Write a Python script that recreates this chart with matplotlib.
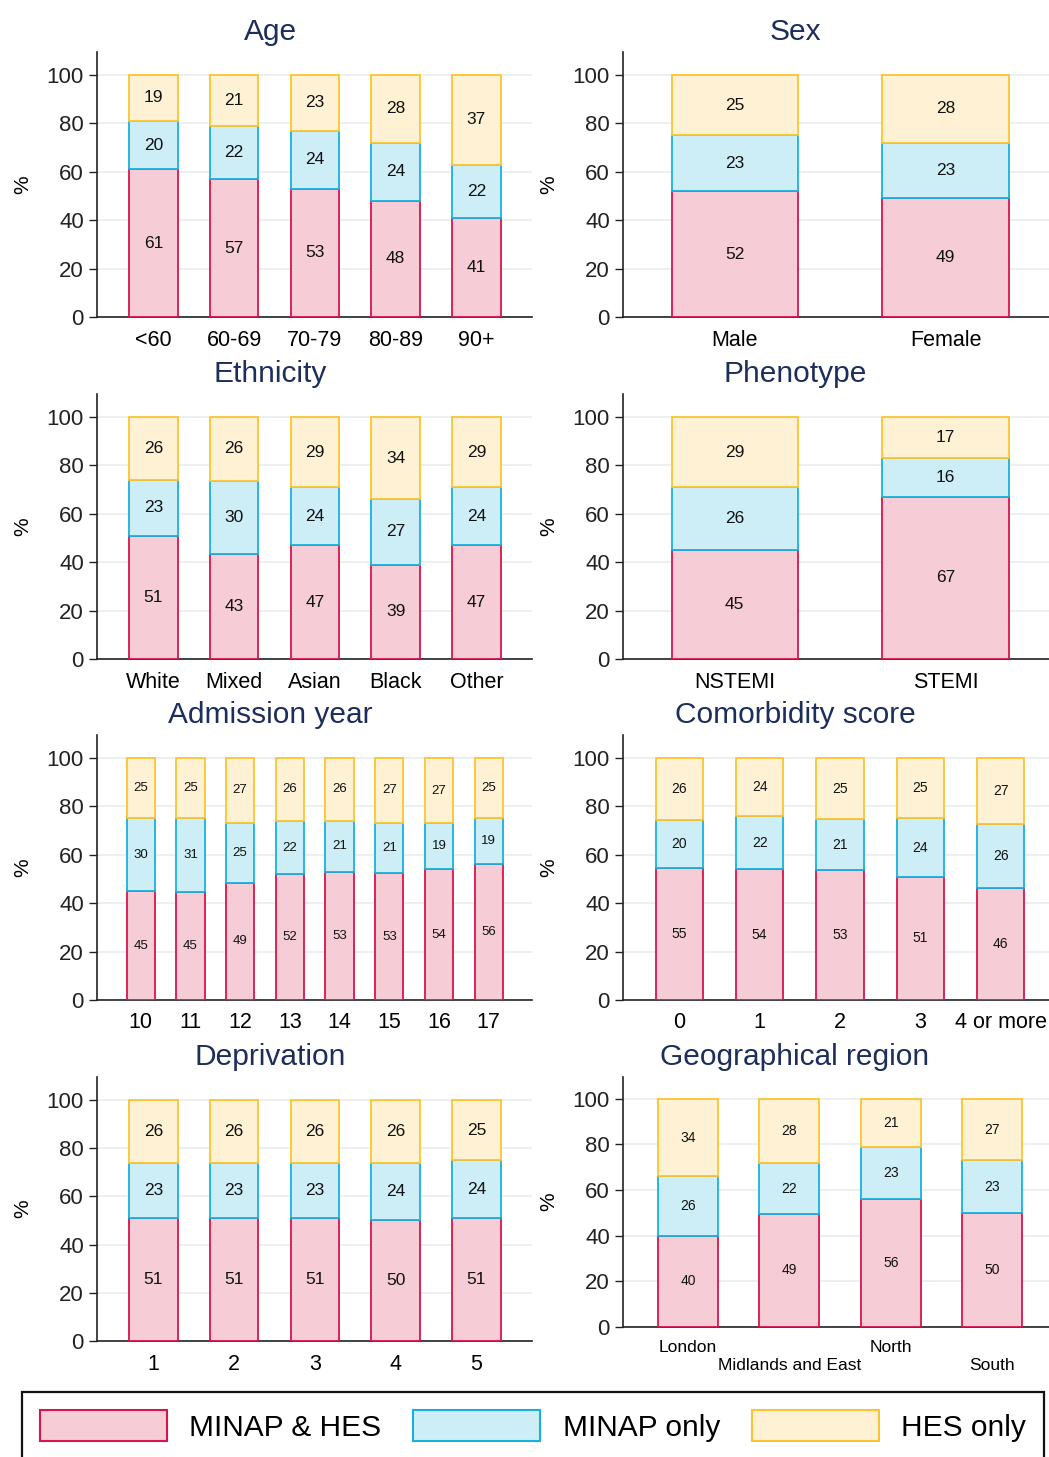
import numpy as np
import matplotlib
matplotlib.use("Agg")
import matplotlib.pyplot as plt
from matplotlib.patches import Patch

plt.rcParams['font.family'] = ['Liberation Sans', 'DejaVu Sans']

# ---- data (percent of cases) ----
age_cats = ['<60', '60-69', '70-79', '80-89', '90+']
age_both = [61, 57, 53, 48, 41]
age_minap = [20, 22, 24, 24, 22]
age_hes = [19, 21, 23, 28, 37]

sex_cats = ['Male', 'Female']
sex_both = [52, 49]
sex_minap = [23, 23]
sex_hes = [25, 28]

eth_cats = ['White', 'Mixed', 'Asian', 'Black', 'Other']
eth_both = [51, 43, 47, 39, 47]
eth_minap = [23, 30, 24, 27, 24]
eth_hes = [26, 26, 29, 34, 29]

phen_cats = ['NSTEMI', 'STEMI']
phen_both = [45, 67]
phen_minap = [26, 16]
phen_hes = [29, 17]

year_cats = ['10', '11', '12', '13', '14', '15', '16', '17']
year_both = [45, 45, 49, 52, 53, 53, 54, 56]
year_minap = [30, 31, 25, 22, 21, 21, 19, 19]
year_hes = [25, 25, 27, 26, 26, 27, 27, 25]

com_cats = ['0', '1', '2', '3', '4 or more']
com_both = [55, 54, 53, 51, 46]
com_minap = [20, 22, 21, 24, 26]
com_hes = [26, 24, 25, 25, 27]

dep_cats = ['1', '2', '3', '4', '5']
dep_both = [51, 51, 51, 50, 51]
dep_minap = [23, 23, 23, 24, 24]
dep_hes = [26, 26, 26, 26, 25]

reg_cats = ['London', 'Midlands and East', 'North', 'South']
reg_both = [40, 49, 56, 50]
reg_minap = [26, 22, 23, 23]
reg_hes = [34, 28, 21, 27]

series_names = ['MINAP & HES', 'MINAP only', 'HES only']
fills = ['#f6cdd7', '#cdeef7', '#fff2d4']
edges = ['#d7154b', '#19b0dc', '#fbc432']

W, H = 1049, 1457
fig = plt.figure(figsize=(W / 100, H / 100), dpi=100)


def panel(px_left, px_right, px_top, px_bottom, title, cats, both, minap, hes,
          xlim, width, lab_fs=12.5, tick_fs=15.5, title_x=0.4):
    ax = fig.add_axes([px_left / W, 1 - px_bottom / H,
                       (px_right - px_left) / W, (px_bottom - px_top) / H])
    x = np.arange(len(cats))
    vals = np.array([both, minap, hes], dtype=float)
    shares = vals / vals.sum(axis=0) * 100
    bottom = np.zeros(len(cats))
    for i in range(3):
        ax.bar(x, shares[i], width, bottom=bottom, color=fills[i],
               edgecolor=edges[i], linewidth=1.3, zorder=3)
        for xi, b, h, v in zip(x, bottom, shares[i], vals[i]):
            ax.text(xi, b + h / 2, str(int(v)), ha='center', va='center',
                    fontsize=lab_fs, color='#111111', zorder=4)
        bottom = bottom + shares[i]
    ax.set_xlim(*xlim)
    ax.set_ylim(0, 109.5)
    ax.set_yticks([0, 20, 40, 60, 80, 100])
    ax.set_xticks(x)
    ax.set_xticklabels(cats, fontsize=tick_fs)
    ax.tick_params(axis='y', labelsize=16, length=6, width=1.0, colors='#222222')
    ax.tick_params(axis='x', length=0, pad=9)
    ax.grid(axis='y', color='#e8eff3', linewidth=1.3, zorder=0)
    for s in ['top', 'right']:
        ax.spines[s].set_visible(False)
    for s in ['left', 'bottom']:
        ax.spines[s].set_color('#222222')
        ax.spines[s].set_linewidth(1.2)
    ax.set_ylabel('%', fontsize=15)
    ax.yaxis.set_label_coords(-65 / (px_right - px_left), 0.5)
    ax.set_title(title, fontsize=21.5, color='#1d2d5c', x=title_x, pad=8.5)
    return ax


L0, L1 = 97, 532
R0, R1 = 623, 1049
tl = (270 - L0) / (L1 - L0)
tr = (795 - R0) / (R1 - R0)

panel(L0, L1, 52, 317, 'Age', age_cats, age_both, age_minap, age_hes,
      (-0.7, 4.69), 0.6, title_x=tl)
panel(R0, R1, 52, 317, 'Sex', sex_cats, sex_both, sex_minap, sex_hes,
      (-0.53, 1.49), 0.6, title_x=tr)
panel(L0, L1, 394, 659, 'Ethnicity', eth_cats, eth_both, eth_minap, eth_hes,
      (-0.7, 4.69), 0.6, title_x=tl)
panel(R0, R1, 394, 659, 'Phenotype', phen_cats, phen_both, phen_minap, phen_hes,
      (-0.53, 1.49), 0.6, title_x=tr)
panel(L0, L1, 735, 1000, 'Admission year', year_cats, year_both, year_minap, year_hes,
      (-0.88, 7.87), 0.57, lab_fs=9.5, title_x=tl)
panel(R0, R1, 735, 1000, 'Comorbidity score', com_cats, com_both, com_minap, com_hes,
      (-0.7, 4.6), 0.59, lab_fs=10, title_x=tr)
panel(L0, L1, 1077, 1341, 'Deprivation', dep_cats, dep_both, dep_minap, dep_hes,
      (-0.7, 4.69), 0.6, title_x=tl)
axr = panel(R0, R1, 1077, 1327, 'Geographical region', reg_cats, reg_both, reg_minap, reg_hes,
            (-0.64, 3.56), 0.59, lab_fs=10, tick_fs=12.5, title_x=tr)
# staggered region labels: every second one on a lower row
for i, t in enumerate(axr.xaxis.get_major_ticks()):
    if i % 2 == 1:
        t.set_pad(22)

handles = [Patch(facecolor=fills[i], edgecolor=edges[i], linewidth=1.5)
           for i in range(3)]
leg = fig.legend(handles, series_names, loc='upper left', ncol=3,
                 bbox_to_anchor=(22 / W, 1 - 1392 / H - 0.05, (1044 - 22) / W, 0.05),
                 mode='expand', fontsize=21.5, handlelength=4.25, handleheight=1.25,
                 handletextpad=0.75, borderpad=0.6, borderaxespad=0,
                 fancybox=False, framealpha=1, edgecolor='#111111')
leg.get_frame().set_linewidth(1.6)

fig.savefig('out.png', dpi=100)
